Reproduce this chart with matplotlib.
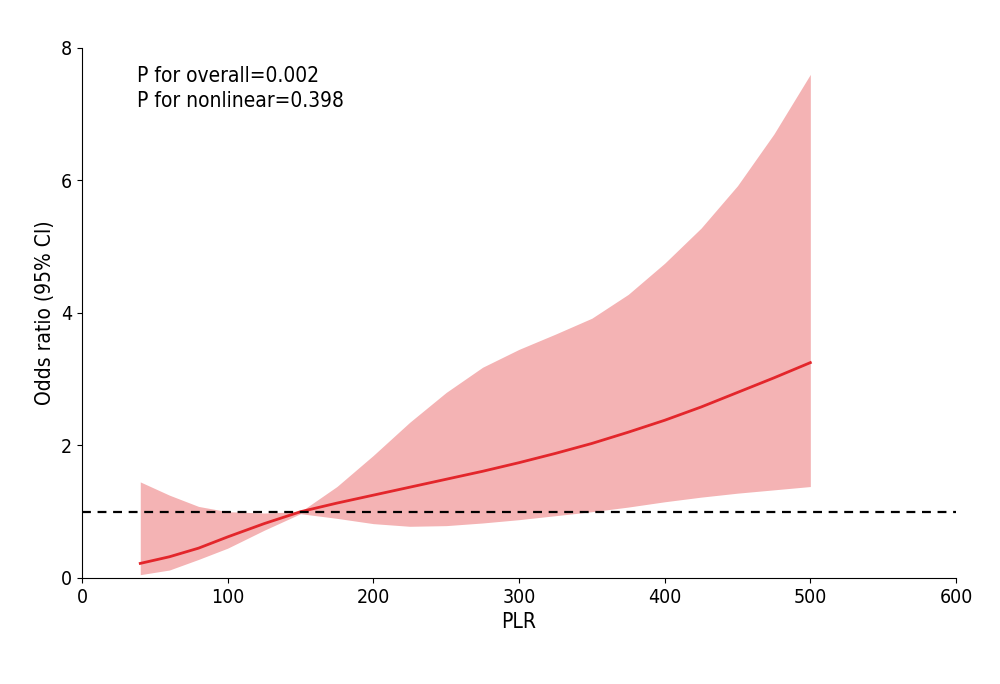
import matplotlib
matplotlib.use("Agg")
import matplotlib.pyplot as plt

plr = [40, 60, 80, 100, 125, 150, 175, 200, 225, 250, 275, 300, 325, 350, 375, 400, 425, 450, 475, 500]
or_est = [0.22, 0.32, 0.45, 0.62, 0.82, 1.0, 1.13, 1.25, 1.37, 1.49, 1.61, 1.74, 1.88, 2.03, 2.2, 2.38, 2.58, 2.8, 3.02, 3.25]
upper = [1.45, 1.25, 1.08, 1.0, 0.98, 1.0, 1.38, 1.85, 2.35, 2.8, 3.18, 3.45, 3.68, 3.92, 4.28, 4.75, 5.28, 5.92, 6.7, 7.6]
lower = [0.05, 0.12, 0.28, 0.45, 0.72, 0.97, 0.9, 0.82, 0.78, 0.79, 0.83, 0.88, 0.94, 1.0, 1.07, 1.15, 1.22, 1.28, 1.33, 1.38]

plt.rcParams["font.family"] = ["DejaVu Sans Condensed", "Liberation Sans Narrow", "DejaVu Sans"]
plt.rcParams["font.stretch"] = "condensed"
fig = plt.figure(figsize=(10, 6.84), dpi=100)
ax = fig.add_axes([0.082, 0.155, 0.874, 0.775])
ax.fill_between(plr, lower, upper, color="#f4b3b4", linewidth=0)
ax.plot(plr, or_est, color="#e3262b", lw=2)
ax.axhline(1, color="black", ls=(0, (4, 3)), lw=1.6)
ax.set_xlim(0, 600)
ax.set_ylim(0, 8)
ax.set_xticks([0, 100, 200, 300, 400, 500, 600])
ax.set_yticks([0, 2, 4, 6, 8])
for s in ["top", "right"]:
    ax.spines[s].set_visible(False)
ax.tick_params(labelsize=14)
ax.set_xlabel("PLR", fontsize=15)
ax.set_ylabel("Odds ratio (95% CI)", fontsize=15)
ax.text(0.063, 0.965, "P for overall=0.002\nP for nonlinear=0.398", transform=ax.transAxes,
        fontsize=15, va="top", linespacing=1.3)
fig.savefig("out.png")
